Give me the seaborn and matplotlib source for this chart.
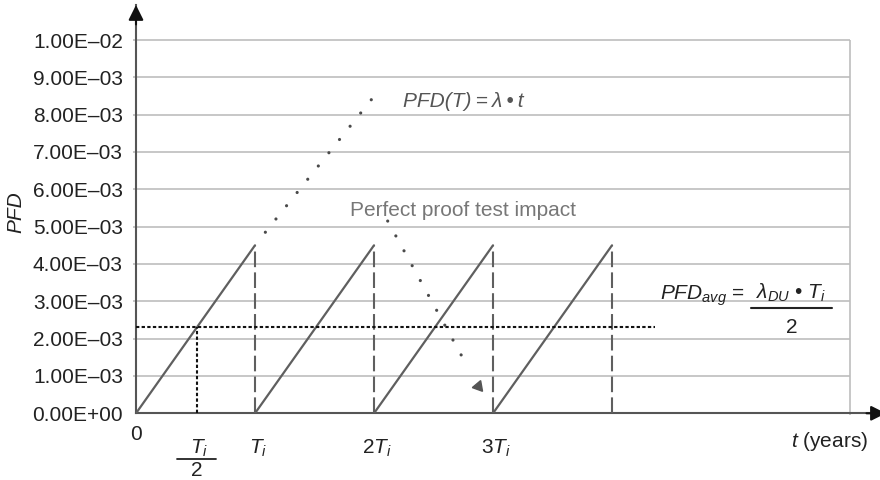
import numpy as np
import pandas as pd
import matplotlib
matplotlib.use("Agg")
import matplotlib.pyplot as plt
import matplotlib.transforms as mtransforms
import seaborn as sns

# Proof-test cycles, time measured in units of the test interval T_i
cycle_starts = [0, 1, 2, 3]
peak_pfd = 4.5e-3            # PFD reached just before each proof test
pfd_avg = 2.3e-3             # average PFD level
avg_line_end = 4.36          # extent of the average line (in T_i)

# Unrepaired growth PFD(T) = λ·t continuing past the first test
growth_t = [1.087, 2.065]
growth_pfd = [4.85e-3, 8.75e-3]

# Drop produced by a perfect proof test
drop_t = [2.115, 2.80]
drop_pfd = [5.15e-3, 1.17e-3]
drop_arrow_t = [2.874]
drop_arrow_pfd = [0.73e-3]

y_ticks = [0, 1e-3, 2e-3, 3e-3, 4e-3, 5e-3, 6e-3, 7e-3, 8e-3, 9e-3, 1e-2]
y_tick_labels = ["0.00E+00", "1.00E–03", "2.00E–03", "3.00E–03", "4.00E–03",
                 "5.00E–03", "6.00E–03", "7.00E–03", "8.00E–03", "9.00E–03",
                 "1.00E–02"]
x_tick_pos = [1, 2, 3]
x_tick_labels = [r"$T_i$", r"$2T_i$", r"$3T_i$"]
grid_right = 6.0

sns.set_theme(style="white")
plt.rcParams["font.family"] = ["Liberation Sans", "DejaVu Sans"]
plt.rcParams["mathtext.fontset"] = "custom"
plt.rcParams["mathtext.rm"] = "Liberation Sans"
plt.rcParams["mathtext.it"] = "Liberation Sans:italic"
plt.rcParams["mathtext.bf"] = "Liberation Sans:bold"

FS = 15
TXT = "#222222"
LINE = "#5f5f5f"
GRID = "#bdbdbd"

fig = plt.figure(figsize=(8.8, 4.8), dpi=100)
ax = fig.add_axes([136 / 880, 1 - 413.3 / 480, 744 / 880, 408.3 / 480])
ax.set_xlim(0, 744 / 119)
ax.set_ylim(0, 408.3 / 37.33 * 1e-3)

# grid
ax.hlines(y_ticks[1:], -0.025, grid_right, colors=GRID, lw=1.2, zorder=1, clip_on=False)
ax.vlines(grid_right, -0.05e-3, y_ticks[-1], colors=GRID, lw=1.2, zorder=1, clip_on=False)

# axes
for side in ["top", "right"]:
    ax.spines[side].set_visible(False)
for side in ["left", "bottom"]:
    ax.spines[side].set_color("#555555")
    ax.spines[side].set_linewidth(1.5)
ax.set_yticks(y_ticks, y_tick_labels)
ax.set_xticks([])
ax.tick_params(axis="y", length=0, pad=9.4, labelsize=FS, labelcolor=TXT)

arrow_kw = dict(arrowstyle="-|>,head_length=0.6,head_width=0.3", color="#111111",
                lw=1.5, shrinkA=0, shrinkB=0, mutation_scale=15)
ax.annotate("", xy=(0, 1), xycoords="axes fraction", xytext=(0, -14),
            textcoords="offset points", arrowprops=arrow_kw, annotation_clip=False)
ax.annotate("", xy=(1.008, 0), xycoords="axes fraction", xytext=(-14, 0),
            textcoords="offset points", arrowprops=arrow_kw, annotation_clip=False)

# sawtooth PFD(t)
rows = []
for c in cycle_starts:
    rows.append(dict(cycle=c, t=c, pfd=0.0))
    rows.append(dict(cycle=c, t=c + 1, pfd=peak_pfd))
saw = pd.DataFrame(rows)
sns.lineplot(data=saw, x="t", y="pfd", units="cycle", estimator=None,
             color=LINE, lw=1.6, ax=ax, legend=False, zorder=3)
ax.set_xlabel("")
ax.set_ylabel("")

# proof tests
ax.vlines([c + 1 for c in cycle_starts], 0, peak_pfd, colors=LINE, lw=1.5,
          linestyles=(0, (7.5, 2.5)), zorder=3)

# average level
half_t = pfd_avg / peak_pfd
ax.plot([0, avg_line_end], [pfd_avg, pfd_avg], color="#111111", lw=1.5,
        linestyle=(0, (1.6, 1.1)), zorder=4)
ax.plot([half_t, half_t], [0, pfd_avg], color="#111111", lw=1.5,
        linestyle=(0, (1.6, 1.1)), zorder=4)

# growth without testing and perfect proof-test drop
dot_kw = dict(color="#4a4a4a", lw=2.3, linestyle=(0, (0.01, 5.3)),
              dash_capstyle="round", zorder=4)
ax.plot(growth_t, growth_pfd, **dot_kw)
ax.plot(drop_t, drop_pfd, **dot_kw)
ax.plot(drop_arrow_t, drop_arrow_pfd, marker=(3, 0, 100), ms=9, color="#555555",
        ls="none", zorder=4)

# annotations
ax.text(2.240, 8.21e-3, "PFD(T)\u2009=\u2009λ\u2009•\u2009t", style="italic", fontsize=FS,
        color="#555555", ha="left", va="baseline")
ax.text(1.798, 5.28e-3, "Perfect proof test impact", fontsize=FS,
        color="#777777", ha="left", va="baseline")

ax.text(4.403, 3.03e-3, r"$PFD_{avg}$ =", fontsize=FS, color=TXT,
        ha="left", va="baseline")
ax.text(5.508, 3.07e-3, r"$\lambda_{DU}$ • $T_i$", fontsize=FS, color=TXT,
        ha="center", va="baseline")
ax.plot([5.168, 5.849], [2.83e-3, 2.83e-3], color=TXT, lw=1.5)
ax.text(5.508, 2.15e-3, "2", fontsize=FS, color=TXT, ha="center", va="baseline")

# x labels
off = dict(xycoords="data", textcoords="offset points", fontsize=FS, color=TXT,
           annotation_clip=False)
ax.annotate("0", xy=(0, 0), xytext=(0, -15), ha="center", va="center", **off)
for pos, lab in zip(x_tick_pos, x_tick_labels):
    ax.annotate(lab, xy=(pos, 0), xytext=(2, -29), ha="center", va="baseline", **off)
ax.annotate(r"$T_i$", xy=(half_t, 0), xytext=(2, -29), ha="center", va="baseline", **off)
bar_tr = mtransforms.offset_copy(ax.get_xaxis_transform(), fig=fig, y=-33.1, units="points")
ax.plot([half_t - 0.165, half_t + 0.165], [0, 0], color=TXT, lw=1.3,
        transform=bar_tr, clip_on=False)
ax.annotate("2", xy=(half_t, 0), xytext=(0, -45.5), ha="center", va="baseline", **off)
ax.annotate(r"$t$ (years)", xy=(1, 0), xycoords="axes fraction", xytext=(-8.6, -20.5),
            textcoords="offset points", ha="right", va="center", fontsize=FS,
            color=TXT, annotation_clip=False)

fig.text(16 / 880, 1 - 212 / 480, "PFD", rotation=90, style="italic", fontsize=FS,
         color=TXT, ha="center", va="center")

fig.savefig("out.png", dpi=100)
